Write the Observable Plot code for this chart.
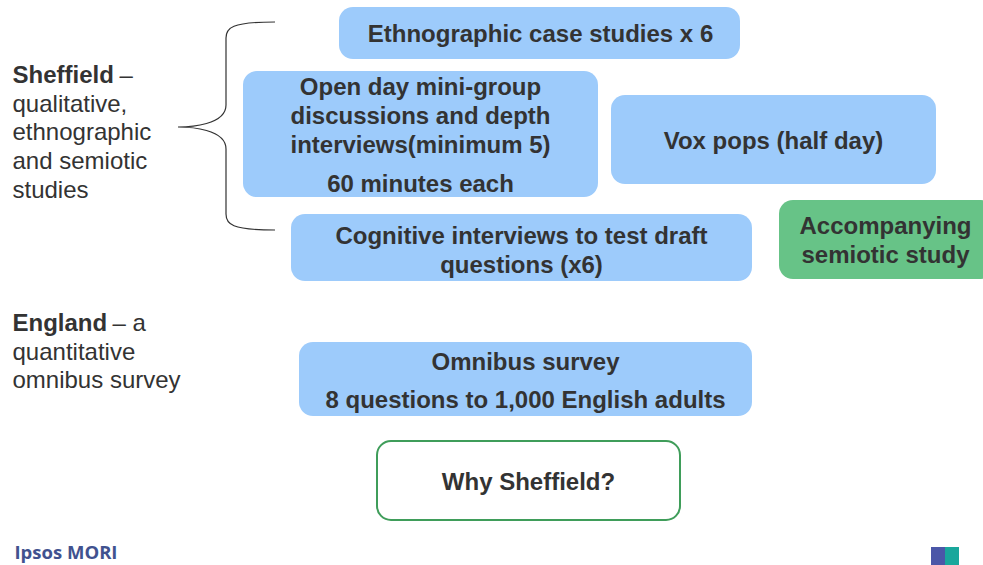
<!DOCTYPE html>
<html>
<head>
<meta charset="utf-8">
<script src="https://cdn.jsdelivr.net/npm/d3@7"></script>
<script src="https://cdn.jsdelivr.net/npm/@observablehq/plot@0.6"></script>
<style>
  html, body { margin: 0; padding: 0; background: #fff; }
  #chart svg { display: block; }
</style>
</head>
<body>
<div id="chart"></div>
<script>
// ---- content ----
const boxNames = ["ethno", "openday", "vox", "cognitive", "semiotic", "omnibus", "why"];
const boxKinds = ["blue", "blue", "blue", "blue", "green", "blue", "outline"];
const boxLines = [
  ["Ethnographic case studies x 6"],
  ["Open day mini-group", "discussions and depth", "interviews(minimum 5)", "60 minutes each"],
  ["Vox pops (half day)"],
  ["Cognitive interviews to test draft", "questions (x6)"],
  ["Accompanying", "semiotic study"],
  ["Omnibus survey", "8 questions to 1,000 English adults"],
  ["Why Sheffield?"]
];
const sideBold = ["Sheffield", "England"];
const sideRest = ["–", "– a"];
const sideLines = [
  ["qualitative,", "ethnographic", "and semiotic", "studies"],
  ["quantitative", "omnibus survey"]
];
const footerText = "Ipsos MORI";

// ---- layout (pixel positions of the diagram) ----
const W = 983, H = 565;
const boxRects = [
  [339, 740, 7, 59],
  [243, 598, 71, 197],
  [611, 936, 95, 184],
  [291, 752, 214, 281],
  [779, 995, 200, 279],
  [299, 752, 342, 416],
  [377, 680, 441, 520]
];
const boxLineY = [
  [34],
  [87, 116, 145, 184],
  [141],
  [236, 265],
  [226, 255],
  [362, 400],
  [482]
];
const boxTextX = [540, 420, 773, 521, 885, 525, 528];
const sideX = 12;
const sideTopY = [75, 323];
const sideRestX = [119, 112];
const sideLineStep = 28.6;
const kindFill = {blue: "#9dcbfb", green: "#67c387", outline: "#ffffff"};
const kindStroke = {blue: "none", green: "none", outline: "#3f9d5a"};

const boxes = boxNames.map((n, i) => ({
  name: n, x1: boxRects[i][0], x2: boxRects[i][1], y1: boxRects[i][2], y2: boxRects[i][3],
  fill: kindFill[boxKinds[i]], stroke: kindStroke[boxKinds[i]]
}));
const boxText = boxLines.flatMap((lines, i) => lines.map((t, j) => ({text: t, x: boxTextX[i], y: boxLineY[i][j]})));
const sideBoldRows = sideBold.map((t, i) => ({text: t, x: sideX, y: sideTopY[i]}));
const sideRestRows = sideRest.map((t, i) => ({text: t, x: sideRestX[i], y: sideTopY[i]}));
const sideLineRows = sideLines.flatMap((lines, i) => lines.map((t, j) => ({text: t, x: sideX, y: sideTopY[i] + sideLineStep * (j + 1)})));

// brace geometry
const brace = {tipX: 178, tipY: 127, spineX: 226, endX: 275, topY: 22, botY: 230};

function braceMark(index, scales) {
  const x = scales.x, y = scales.y, b = brace;
  const p = d3.path();
  p.moveTo(x(b.endX), y(b.topY));
  p.bezierCurveTo(x(b.spineX + 5), y(b.topY), x(b.spineX), y(b.topY + 6), x(b.spineX), y(b.topY + 16));
  p.lineTo(x(b.spineX), y(b.tipY - 22));
  p.bezierCurveTo(x(b.spineX), y(b.tipY - 2), x(b.tipX + 12), y(b.tipY), x(b.tipX), y(b.tipY));
  p.bezierCurveTo(x(b.tipX + 12), y(b.tipY), x(b.spineX), y(b.tipY + 2), x(b.spineX), y(b.tipY + 22));
  p.lineTo(x(b.spineX), y(b.botY - 16));
  p.bezierCurveTo(x(b.spineX), y(b.botY - 6), x(b.spineX + 5), y(b.botY), x(b.endX), y(b.botY));
  const svg = d3.create("svg:path")
    .attr("d", p.toString())
    .attr("fill", "none")
    .attr("stroke", "#333")
    .attr("stroke-width", 1.2);
  return svg.node();
}

const logo = [
  {x1: 931, x2: 945, y1: 547, y2: 566, fill: "#4b57a8"},
  {x1: 945, x2: 959, y1: 547, y2: 566, fill: "#19a79c"}
];

const FONT = "'Liberation Sans', Arial, sans-serif";

const chart = Plot.plot({
  width: W,
  height: H,
  margin: 0,
  style: {fontFamily: FONT, background: "#fff"},
  x: {domain: [0, W], range: [0, W], axis: null},
  y: {domain: [0, H], range: [0, H], axis: null},
  color: {type: "identity"},
  marks: [
    Plot.rect(boxes, {x1: "x1", x2: "x2", y1: "y1", y2: "y2", fill: "fill", stroke: "stroke", strokeWidth: 2, rx: 14}),
    Plot.text(boxText, {x: "x", y: "y", text: "text", fontSize: 24, fontWeight: "bold", fill: "#333333", fontFamily: FONT}),
    Plot.text(sideBoldRows, {x: "x", y: "y", text: "text", textAnchor: "start", fontSize: 24, fontWeight: "bold", fill: "#333333", fontFamily: FONT}),
    Plot.text(sideRestRows, {x: "x", y: "y", text: "text", textAnchor: "start", fontSize: 24, fill: "#333333", fontFamily: FONT}),
    Plot.text(sideLineRows, {x: "x", y: "y", text: "text", textAnchor: "start", fontSize: 24, fill: "#333333", fontFamily: FONT}),
    braceMark,
    Plot.text([footerText], {x: 14, y: 553, text: d => d, textAnchor: "start", fontSize: 18.5, fontWeight: "bold", fill: "#41528f", fontFamily: "'Open Sans', sans-serif"}),
    Plot.rect(logo, {x1: "x1", x2: "x2", y1: "y1", y2: "y2", fill: "fill"})
  ]
});
document.getElementById("chart").appendChild(chart);
</script>
</body>
</html>
